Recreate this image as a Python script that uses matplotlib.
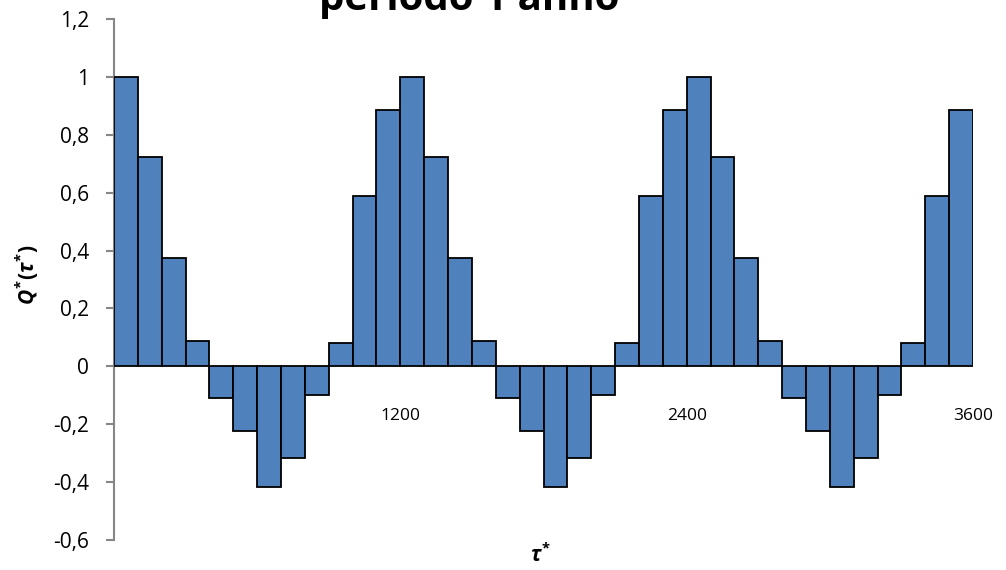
import matplotlib
matplotlib.use("Agg")
import matplotlib.pyplot as plt
from matplotlib.ticker import FuncFormatter, MultipleLocator

plt.rcParams['font.family'] = ['Open Sans', 'DejaVu Sans']
plt.rcParams['mathtext.fontset'] = 'custom'
plt.rcParams['mathtext.rm'] = 'Open Sans:bold'
plt.rcParams['mathtext.it'] = 'Open Sans:italic:bold'
plt.rcParams['mathtext.bf'] = 'Open Sans:bold'

# --- data ---
title = "periodo 1 anno"
bar_width = 100
tau_start = list(range(0, 3600, 100))
q_values = [1.0, 0.724, 0.374, 0.087, -0.108, -0.224, -0.416, -0.318, -0.099, 0.080, 0.590, 0.886,
            1.0, 0.724, 0.374, 0.087, -0.108, -0.224, -0.416, -0.318, -0.099, 0.080, 0.590, 0.886,
            1.0, 0.724, 0.374, 0.087, -0.108, -0.224, -0.416, -0.318, -0.099, 0.080, 0.590, 0.886]
x_ticks = [1200, 2400, 3600]
x_ticklabels = ["1200", "2400", "3600"]

fig = plt.figure(figsize=(10.06, 5.70), dpi=100)
ax = fig.add_axes([114/1006, 1-540/570, (973-114)/1006, (540-19)/570])

ax.bar(tau_start, q_values, width=bar_width, align='edge',
       color='#4F81BD', edgecolor='black', linewidth=1.3, zorder=3)

ax.set_xlim(0, 3600)
ax.set_ylim(-0.6, 1.2)
ax.yaxis.set_major_locator(MultipleLocator(0.2))
ax.yaxis.set_major_formatter(FuncFormatter(
    lambda v, p: f"{round(v, 1) + 0:g}".replace('.', ',')))

for s in ['top', 'right']:
    ax.spines[s].set_visible(False)
ax.spines['left'].set_color('#868686')
ax.spines['left'].set_linewidth(1.5)
ax.spines['bottom'].set_position(('data', 0))
ax.spines['bottom'].set_visible(False)

ax.tick_params(axis='y', direction='out', length=6, width=1.5, color='#868686',
               labelsize=15, pad=12, labelcolor='black')
ax.set_xticks(x_ticks)
ax.set_xticklabels(x_ticklabels)
ax.tick_params(axis='x', length=0, labelsize=12.5, pad=30)

fig.text(469/1006, 1-10/570, title, ha='center', va='baseline',
         fontsize=29, fontweight='bold')
fig.text(27/1006, 1-275/570, r'$Q^{*}(\tau^{*})$', rotation=90,
         ha='center', va='center', fontsize=15)
fig.text(540/1006, 1-555/570, r'$\tau^{*}$', ha='center', va='center', fontsize=15)

fig.savefig('out.png', dpi=100)
